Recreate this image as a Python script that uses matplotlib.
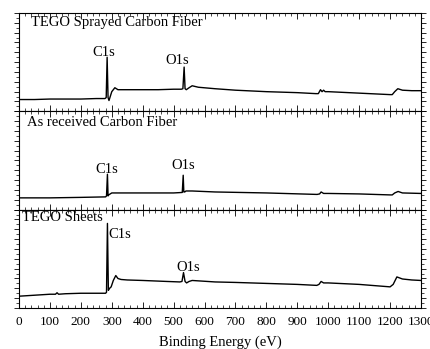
import matplotlib; matplotlib.use("Agg")
import matplotlib.pyplot as plt
from matplotlib.ticker import MultipleLocator

plt.rcParams['font.family'] = ['Liberation Serif', 'DejaVu Serif']
plt.rcParams['font.size'] = 9.5

# TEGO sprayed carbon fiber (top)
e_spray = [0, 50, 100, 150, 200, 250, 278, 282, 285, 288, 291, 300, 310, 320, 350, 400, 450,
           500, 525, 530, 534, 537, 541, 550, 560, 580, 634, 700, 800, 900, 960, 968, 975, 980,
           985, 990, 1000, 1100, 1200, 1207, 1215, 1225, 1240, 1270, 1300]
i_spray = [0.12, 0.12, 0.125, 0.125, 0.125, 0.13, 0.13, 0.14, 0.55, 0.14, 0.11, 0.20, 0.24, 0.22,
           0.22, 0.22, 0.22, 0.225, 0.225, 0.23, 0.45, 0.23, 0.22, 0.24, 0.26, 0.245, 0.23, 0.215,
           0.20, 0.19, 0.18, 0.18, 0.22, 0.20, 0.215, 0.20, 0.20, 0.185, 0.17, 0.17, 0.20, 0.23,
           0.215, 0.21, 0.21]

# as received carbon fiber (middle)
e_recv = [0, 100, 200, 280, 283, 286, 288, 290, 300, 320, 400, 500, 528, 531, 533, 536, 540, 560,
          634, 800, 964, 972, 977, 985, 1000, 1100, 1200, 1207, 1215, 1226, 1240, 1300]
i_recv = [0.12, 0.12, 0.125, 0.13, 0.14, 0.36, 0.14, 0.15, 0.17, 0.17, 0.17, 0.17, 0.175, 0.35,
          0.18, 0.18, 0.19, 0.19, 0.18, 0.17, 0.155, 0.16, 0.18, 0.165, 0.165, 0.16, 0.15, 0.15,
          0.17, 0.185, 0.17, 0.165]

# TEGO sheets (bottom)
e_sheet = [0, 50, 100, 118, 123, 128, 150, 200, 250, 280, 283, 286, 289, 293, 298, 305, 313, 320,
           330, 350, 400, 478, 520, 527, 532, 537, 542, 550, 560, 634, 700, 800, 900, 963, 970,
           977, 985, 1000, 1100, 1200, 1210, 1222, 1240, 1270, 1300]
i_sheet = [0.12, 0.13, 0.14, 0.14, 0.155, 0.14, 0.145, 0.15, 0.15, 0.15, 0.16, 0.86, 0.18, 0.20,
           0.215, 0.28, 0.33, 0.30, 0.29, 0.285, 0.28, 0.27, 0.265, 0.27, 0.36, 0.27, 0.255, 0.27,
           0.28, 0.265, 0.26, 0.25, 0.24, 0.23, 0.24, 0.27, 0.255, 0.255, 0.24, 0.215, 0.24, 0.316,
           0.295, 0.285, 0.28]

titles = ["TEGO Sprayed Carbon Fiber", "As received Carbon Fiber", "TEGO Sheets"]
# (energy, height) of the C1s / O1s labels in each panel
c1s_pos = [(274, 0.60), (283, 0.41), (327, 0.75)]
o1s_pos = [(513, 0.52), (532, 0.45), (548, 0.41)]
title_pos = [(39, 0.90), (26, 0.885), (10, 0.92)]

spectra = [(e_spray, i_spray), (e_recv, i_recv), (e_sheet, i_sheet)]

fig = plt.figure(figsize=(4.3, 3.49), dpi=100)
gs = fig.add_gridspec(3, 1, left=19/430, right=421/430, top=1-13/349, bottom=1-308/349, hspace=0)
for k, (e, i) in enumerate(spectra):
    ax = fig.add_subplot(gs[k])
    ax.plot(e, i, color="black", lw=1.0)
    ax.set_xlim(0, 1300); ax.set_ylim(0, 1)
    ax.xaxis.set_major_locator(MultipleLocator(100))
    ax.xaxis.set_minor_locator(MultipleLocator(20))
    ax.yaxis.set_major_locator(MultipleLocator(0.1))
    ax.yaxis.set_minor_locator(MultipleLocator(0.05))
    ax.tick_params(axis="x", which="both", direction="in", top=True, bottom=True)
    ax.tick_params(axis="x", which="major", length=4, width=0.6, labelsize=9.5, pad=6)
    ax.tick_params(axis="x", which="minor", length=2, width=0.5)
    ax.tick_params(axis="y", which="both", direction="out", left=True, right=True, labelleft=False)
    ax.tick_params(axis="y", which="major", length=3.5, width=0.6)
    ax.tick_params(axis="y", which="minor", length=2, width=0.5)
    for s in ax.spines.values():
        s.set_linewidth(0.8)
    if k < 2:
        ax.tick_params(axis="x", labelbottom=False)
    ax.text(title_pos[k][0], title_pos[k][1], titles[k], ha="left", va="center", fontsize=10.5)
    ax.text(c1s_pos[k][0], c1s_pos[k][1], "C1s", ha="center", va="center", fontsize=10.5)
    ax.text(o1s_pos[k][0], o1s_pos[k][1], "O1s", ha="center", va="center", fontsize=10.5)
ax.set_xlabel("Binding Energy (eV)", fontsize=10.5, labelpad=5)
fig.savefig("out.png", dpi=100)
